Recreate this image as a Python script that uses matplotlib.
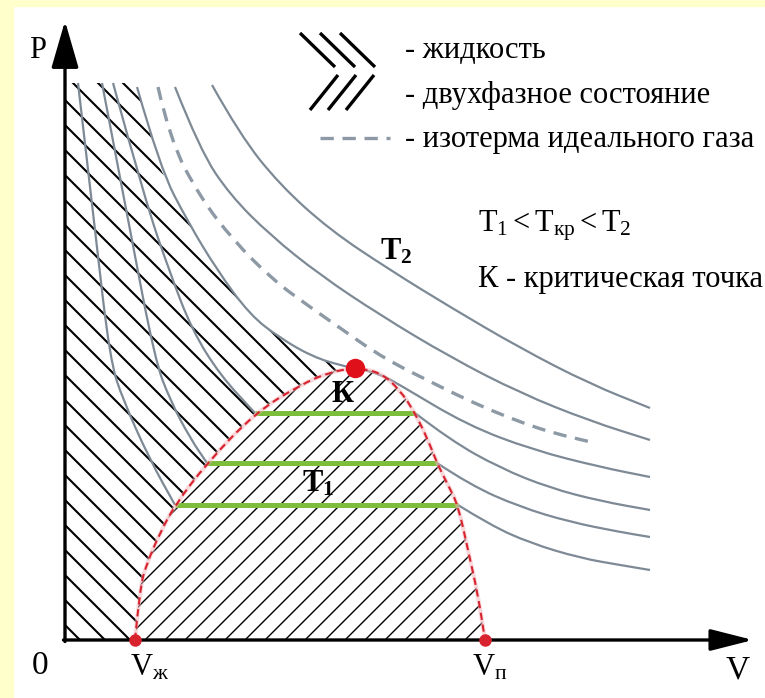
import numpy as np
import matplotlib
matplotlib.use("Agg")
import matplotlib.pyplot as plt
from matplotlib.path import Path
from matplotlib.patches import PathPatch, Rectangle, Polygon
from matplotlib.collections import LineCollection

plt.rcParams['font.family'] = ['Liberation Serif', 'DejaVu Serif']
plt.rcParams['mathtext.fontset'] = 'custom'
plt.rcParams['mathtext.rm'] = 'Liberation Serif'
plt.rcParams['mathtext.it'] = 'Liberation Serif:italic'
plt.rcParams['mathtext.bf'] = 'Liberation Serif:bold'

# ---------------- data (V, P in arbitrary units) ----------------
# binodal (saturation dome), from V_liquid at P=0 over critical point to V_vapour
binodal_V = [7.0, 7.5, 8.2, 9.5, 11.0, 14.2, 19.0, 23.5, 26.5, 29.0,
             31.5, 33.5, 35.0, 36.3, 37.2, 38.3, 39.3, 40.3, 41.3, 42.0]
binodal_P = [0.0, 5.3, 7.7, 10.7, 13.5, 17.7, 22.7, 25.5, 26.8, 27.2,
             26.8, 25.0, 22.7, 20.0, 17.7, 15.5, 13.5, 9.0, 4.5, 0.0]
crit_V, crit_P = 29.0, 27.2
V_liq, V_gas = 7.0, 42.0

# tie lines (sub-critical isotherms T1)
tie_P = [22.7, 17.7, 13.5]
tie_V_liq = [19.0, 14.2, 11.0]
tie_V_gas = [35.0, 37.2, 39.3]

# liquid branches of sub-critical isotherms
liq1_V = [1.3, 3.0, 4.5, 5.8, 8.5, 11.0]
liq1_P = [55.7, 41.0, 28.0, 24.0, 18.0, 13.5]
liq2_V = [3.7, 6.5, 9.0, 10.5, 12.5, 14.2]
liq2_P = [55.7, 41.0, 28.0, 24.0, 20.2, 17.7]
liq3_V = [4.8, 8.0, 10.5, 12.7, 15.5, 19.0]
liq3_P = [55.7, 44.0, 36.7, 31.0, 26.5, 22.7]

# gas branches of sub-critical isotherms
gas1_V = [35.0, 38.5, 43.5, 48.5, 53.5, 58.5]
gas1_P = [22.7, 20.0, 17.2, 15.2, 13.9, 13.0]
gas2_V = [37.2, 40.5, 45.5, 50.5, 55.5, 58.5]
gas2_P = [17.7, 15.5, 13.3, 11.8, 10.8, 10.3]
gas3_V = [39.3, 42.5, 46.5, 51.5, 55.5, 58.5]
gas3_P = [13.5, 11.5, 9.7, 8.2, 7.5, 7.0]

# critical isotherm
critiso_V = [7.2, 9.5, 12.3, 15.2, 18.5, 21.5, 24.8, 27.8, 29.0, 31.5, 33.5, 40.2, 46.8, 53.5, 58.5]
critiso_P = [55.3, 47.2, 41.8, 37.0, 32.5, 30.2, 28.3, 27.4, 27.2, 26.6, 25.5, 21.5, 19.0, 17.3, 16.3]

# super-critical isotherms T2
sup1_V = [11.0, 13.5, 16.5, 20.5, 25.5, 31.5, 38.5, 45.5, 52.5, 58.5]
sup1_P = [55.3, 49.0, 44.5, 40.5, 36.5, 32.5, 28.3, 24.7, 21.9, 20.0]
sup2_V = [14.7, 17.5, 21.5, 26.5, 32.5, 38.5, 45.5, 52.5, 58.5]
sup2_P = [55.5, 50.5, 45.5, 41.0, 37.0, 33.3, 29.2, 25.6, 23.2]

# ideal gas isotherm (dashed)
ideal_V = [9.3, 10.5, 13.5, 16.8, 20.8, 24.5, 27.8, 30.2, 32.8, 36.2, 39.2, 42.5, 45.8, 48.8, 53.0]
ideal_P = [55.3, 50.0, 44.3, 40.0, 36.0, 33.3, 31.0, 29.3, 27.7, 26.0, 24.5, 23.0, 21.7, 20.7, 19.7]

liquid_top_P = 55.7

legend_labels = ["- жидкость", "- двухфазное состояние", "- изотерма идеального газа"]
note_order = r"$\mathrm{T_1 < T_{кр} < T_2}$"
note_crit = "К - критическая точка"

# ---------------- styles ----------------
GRAY = '#7d8a95'
RED = '#d8232f'
GREEN = '#7cbd3a'
YELLOW = '#ffffcc'


def smooth_path(V, P):
    pts = np.column_stack([V, P]).astype(float)
    verts = [pts[0]]
    codes = [Path.MOVETO]
    for i in range(1, len(pts) - 1):
        mid = (pts[i] + pts[i + 1]) / 2
        verts += [pts[i], mid]
        codes += [Path.CURVE3, Path.CURVE3]
    verts.append(pts[-1])
    codes.append(Path.LINETO)
    return Path(verts, codes)


fig = plt.figure(figsize=(7.65, 6.98), dpi=100)
fig.patch.set_facecolor('white')
ax = fig.add_axes([0, 0, 1, 1])
ax.set_xlim(-6.5, 70.0)
ax.set_ylim(-5.8, 64.0)
ax.axis('off')

# yellow page margins
fig.patches.append(Rectangle((0, 0), 13 / 765, 1, transform=fig.transFigure, color=YELLOW, zorder=0))
fig.patches.append(Rectangle((0, 1 - 6 / 698), 1, 6 / 698, transform=fig.transFigure, color=YELLOW, zorder=0))

# ---------- liquid region (hatch "\") ----------
nb = binodal_V.index(crit_V)
nc = critiso_V.index(crit_V)
liq_poly = [(0, 0)] + list(zip(binodal_V[:nb + 1], binodal_P[:nb + 1]))
liq_poly += list(zip(critiso_V[:nc][::-1], critiso_P[:nc][::-1]))
liq_poly += [(critiso_V[0], liquid_top_P), (0, liquid_top_P)]
liq_patch = Polygon(liq_poly, closed=True, fill=False, edgecolor='none')
ax.add_patch(liq_patch)
segs = [[(-10, c + 10), (90, c - 90)] for c in np.arange(-1.0, 140, 2.5)]
lc = LineCollection(segs, colors='black', linewidths=1.5, zorder=1)
ax.add_collection(lc)
lc.set_clip_path(liq_patch)

# ---------- two-phase region (hatch "/") ----------
dome_patch = Polygon(list(zip(binodal_V, binodal_P)), closed=True, fill=False, edgecolor='none')
ax.add_patch(dome_patch)
segs2 = [[(-10, c - 10), (90, c + 90)] for c in np.arange(-60, 40, 2.0)]
lc2 = LineCollection(segs2, colors='black', linewidths=1.0, zorder=1)
ax.add_collection(lc2)
lc2.set_clip_path(dome_patch)

# ---------- isotherms ----------
for V, P in [(liq1_V, liq1_P), (liq2_V, liq2_P), (liq3_V, liq3_P),
             (gas1_V, gas1_P), (gas2_V, gas2_P), (gas3_V, gas3_P),
             (critiso_V, critiso_P), (sup1_V, sup1_P), (sup2_V, sup2_P)]:
    ax.add_patch(PathPatch(smooth_path(V, P), fill=False, edgecolor=GRAY, lw=1.6, zorder=2,
                           capstyle='butt'))
ax.add_patch(PathPatch(smooth_path(ideal_V, ideal_P), fill=False, edgecolor='#8d99a5', lw=2.4,
                       linestyle=(0, (4, 2.6)), zorder=2, capstyle='butt'))

# tie lines
for p, v1, v2 in zip(tie_P, tie_V_liq, tie_V_gas):
    ax.plot([v1, v2], [p, p], color=GREEN, lw=3.6, solid_capstyle='butt', zorder=3)

# binodal
ax.add_patch(PathPatch(smooth_path(binodal_V, binodal_P), fill=False, edgecolor='#f3b3b8', lw=3.0,
                       zorder=3, alpha=0.5))
ax.add_patch(PathPatch(smooth_path(binodal_V, binodal_P), fill=False, edgecolor=RED, lw=1.5,
                       linestyle=(0, (3.5, 2.2)), zorder=3))

# points
ax.plot([V_liq, V_gas], [0, 0], 'o', color=RED, ms=9, zorder=6, mec='none')
ax.plot([crit_V], [crit_P], 'o', color='#e0101a', ms=14, zorder=6, mec='none')

# ---------- axes ----------
ax.annotate('', xy=(0, 61.9), xytext=(0, -0.15),
            arrowprops=dict(arrowstyle='-|>,head_length=1.45,head_width=0.42', lw=2.4,
                            color='black', shrinkA=0, shrinkB=0, mutation_scale=20), zorder=5)
ax.annotate('', xy=(68.8, 0), xytext=(-0.15, 0),
            arrowprops=dict(arrowstyle='-|>,head_length=1.3,head_width=0.33', lw=2.4,
                            color='black', shrinkA=0, shrinkB=0, mutation_scale=20), zorder=5)

FS = 22
ax.text(-2.7, 59.0, 'P', fontsize=FS, ha='center', va='center')
ax.text(-2.5, -2.6, '0', fontsize=FS + 2, ha='center', va='center')
ax.text(67.3, -3.0, 'V', fontsize=FS + 2, ha='center', va='center')
ax.text(V_liq + 1.5, -2.8, r'$\mathrm{V_{ж}}$', fontsize=FS, ha='center', va='center')
ax.text(V_gas + 0.5, -2.8, r'$\mathrm{V_{п}}$', fontsize=FS, ha='center', va='center')

# labels on the diagram
ax.text(27.7, 24.6, 'К', fontsize=FS, ha='center', va='center', fontweight='bold')
ax.text(25.3, 15.6, r'$\mathbf{T_1}$', fontsize=FS, ha='center', va='center')
ax.text(33.1, 38.8, r'$\mathbf{T_2}$', fontsize=FS, ha='center', va='center')

# ---------- legend ----------
for k in range(3):
    ax.plot([23.5 + 2.0 * k, 27.0 + 2.0 * k], [60.7, 57.3], color='black', lw=2.4, solid_capstyle='butt')
    ax.plot([24.5 + 1.8 * k, 27.3 + 1.8 * k], [53.0, 56.5], color='black', lw=2.4, solid_capstyle='butt')
ax.plot([25.5, 32.5], [50.2, 50.2], color='#8d99a5', lw=2.4, linestyle=(0, (4, 2.6)))
for i, lab in enumerate(legend_labels):
    ax.text(34.0, 59.0 - 4.5 * i, lab, fontsize=FS, ha='left', va='center')
ax.text(41.3, 41.4, note_order, fontsize=FS, ha='left', va='center')
ax.text(41.3, 36.1, note_crit, fontsize=FS, ha='left', va='center')

fig.savefig('out.png', dpi=100, facecolor='white')
